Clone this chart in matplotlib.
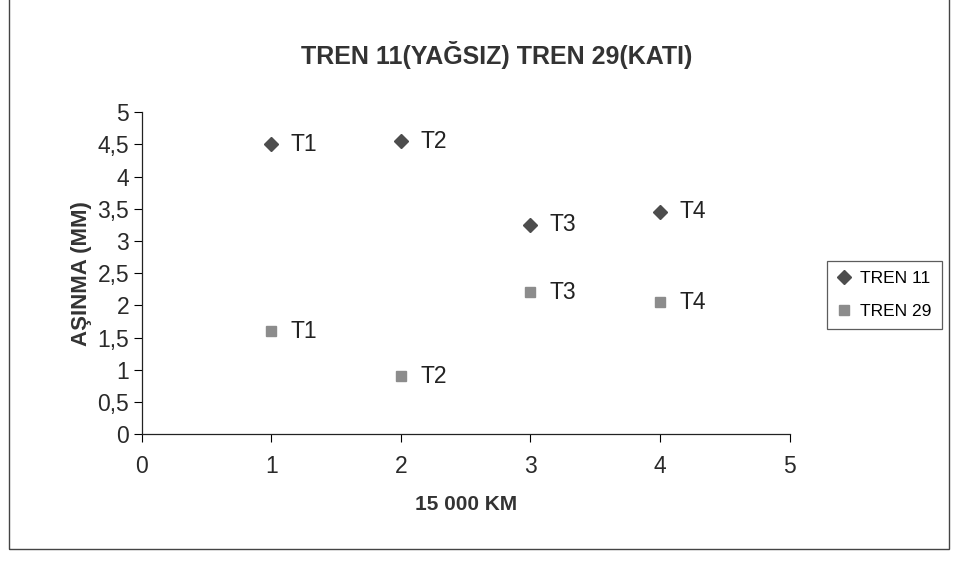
import matplotlib.pyplot as plt
from matplotlib.patches import Rectangle

# Aşınma ölçümleri (her 15 000 km'de)
km_adim = [1, 2, 3, 4]
etiketler = ['T1', 'T2', 'T3', 'T4']
tren11 = [4.5, 4.55, 3.25, 3.45]
tren29 = [1.6, 0.9, 2.2, 2.05]

plt.rcParams['font.family'] = ['Liberation Sans', 'DejaVu Sans']

fig = plt.figure(figsize=(9.57, 5.75), dpi=100)
ax = fig.add_axes([0.148, 0.245, 0.677, 0.56])

# Grafik alanının çerçevesi
fig.patches.append(Rectangle((0.009, 0.045), 0.983, 0.96, transform=fig.transFigure,
                             fill=False, edgecolor='#444444', linewidth=1.0))

ax.plot(km_adim, tren11, linestyle='none', marker='D', markersize=7.5,
        color='#4d4d4d', label='TREN 11')
ax.plot(km_adim, tren29, linestyle='none', marker='s', markersize=7,
        color='#8c8c8c', label='TREN 29')

for x, y, t in zip(km_adim, tren11, etiketler):
    ax.annotate(t, (x, y), xytext=(14, 0), textcoords='offset points',
                va='center', ha='left', fontsize=16.5, color='#222222')
for x, y, t in zip(km_adim, tren29, etiketler):
    ax.annotate(t, (x, y), xytext=(14, 0), textcoords='offset points',
                va='center', ha='left', fontsize=16.5, color='#222222')

ax.set_xlim(0, 5)
ax.set_ylim(0, 5)
ax.set_xticks([0, 1, 2, 3, 4, 5])
ax.set_yticks([0, 0.5, 1, 1.5, 2, 2.5, 3, 3.5, 4, 4.5, 5])
ax.set_yticklabels(['0', '0,5', '1', '1,5', '2', '2,5', '3', '3,5', '4', '4,5', '5'])
ax.tick_params(axis='both', direction='out', length=6, width=0.8,
               labelsize=16.5, labelcolor='#2a2a2a')
ax.tick_params(axis='y', pad=3)
ax.tick_params(axis='x', pad=9)

for s in ['top', 'right']:
    ax.spines[s].set_visible(False)
for s in ['left', 'bottom']:
    ax.spines[s].set_linewidth(0.9)
    ax.spines[s].set_color('#222222')

ax.set_xlabel('15 000 KM', fontsize=15, fontweight='bold', color='#333333', labelpad=12)
ax.set_ylabel('AŞINMA (MM)', fontsize=16, fontweight='bold', color='#333333', labelpad=4)
fig.text(0.519, 0.905, 'TREN 11(YAĞSIZ) TREN 29(KATI)', ha='center', va='center',
         fontsize=18, fontweight='bold', color='#333333')

leg = fig.legend(loc='center left', bbox_to_anchor=(0.855, 0.487), fontsize=12.5,
                 frameon=True, fancybox=False, edgecolor='#333333',
                 handlelength=0.8, handletextpad=0.5, borderpad=0.6,
                 labelspacing=1.0)
leg.get_frame().set_linewidth(0.9)

fig.savefig('out.png', dpi=100, facecolor='white')
